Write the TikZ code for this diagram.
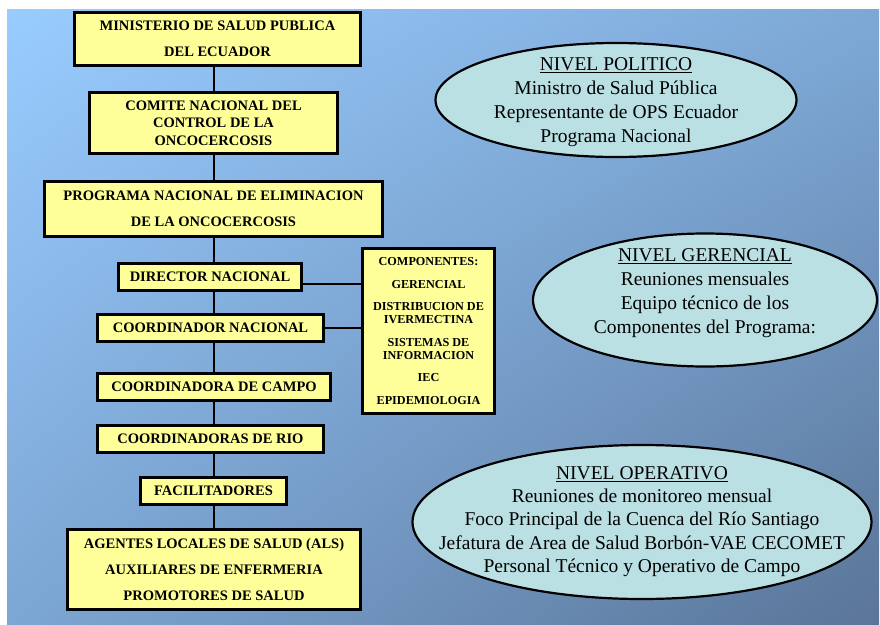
\documentclass[tikz,border=0pt]{standalone}
\usepackage{fontspec}
\usepackage{xcolor}
\usepackage{tikz}
\usetikzlibrary{shapes.geometric, shadings}
\setmainfont{Liberation Serif}
\definecolor{boxyellow}{RGB}{255, 255, 153}
\definecolor{nivelcyan}{RGB}{186, 224, 228}
\definecolor{bgtopleft}{RGB}{153, 204, 255}
\definecolor{bgtopright}{RGB}{125, 168, 214}
\definecolor{bgbottomleft}{RGB}{124, 166, 212}
\definecolor{bgbottomright}{RGB}{90, 117, 152}
\newcommand{\orgboxfont}{\fontsize{14.5}{17.5}\selectfont\bfseries}
\newcommand{\compfont}{\fontsize{12.2}{13}\selectfont\bfseries}
\newcommand{\nivelfont}{\fontsize{19.5}{24}\selectfont}

\begin{document}
\begin{tikzpicture}[
  x=1pt, y=-1pt,
  orgbox/.style={rectangle, draw=black, line width=2.7pt, fill=boxyellow,
    inner sep=1pt, align=center, font=\orgboxfont},
  compbox/.style={orgbox, font=\compfont},
  nivel/.style={ellipse, draw=black, line width=2.2pt, fill=nivelcyan, inner sep=0pt},
  niveltext/.style={align=center, font=\nivelfont},
  link/.style={line width=2.7pt}
]
  \useasboundingbox (0,0) rectangle (880,624);
  \shade[upper left=bgtopleft, upper right=bgtopright,
    lower left=bgbottomleft, lower right=bgbottomright] (7,9) rectangle (879,624);

  % chain of command
  \node[orgbox, minimum width=286.5pt, minimum height=53.5pt] (ministerio) at (217.5,39)
    {MINISTERIO DE SALUD PUBLICA\\[8.5pt]DEL ECUADOR};
  \node[orgbox, minimum width=248.5pt, minimum height=61.5pt] (comite) at (213.5,123)
    {COMITE NACIONAL DEL\\CONTROL DE LA\\ONCOCERCOSIS};
  \node[orgbox, minimum width=338.5pt, minimum height=55.5pt] (programa) at (213.5,209)
    {PROGRAMA NACIONAL DE ELIMINACION\\[9pt]DE LA ONCOCERCOSIS};
  \node[orgbox, minimum width=183.5pt, minimum height=27.5pt] (director) at (210,277)
    {DIRECTOR NACIONAL};
  \node[orgbox, minimum width=226.5pt, minimum height=27.5pt] (coordinador) at (210.5,328)
    {COORDINADOR NACIONAL};
  \node[orgbox, minimum width=233.5pt, minimum height=27.5pt] (campo) at (214,387)
    {COORDINADORA DE CAMPO};
  \node[orgbox, minimum width=226.5pt, minimum height=27.5pt] (rio) at (210.5,439)
    {COORDINADORAS DE RIO};
  \node[orgbox, minimum width=146.5pt, minimum height=27.5pt] (facilitadores) at (213.5,491)
    {FACILITADORES};
  \node[orgbox, minimum width=293.5pt, minimum height=80.5pt] (agentes) at (214,569.5)
    {AGENTES LOCALES DE SALUD (ALS)\\[8.5pt]AUXILIARES DE ENFERMERIA\\[8.5pt]PROMOTORES DE SALUD};

  \node[compbox, minimum width=132.5pt, minimum height=165.5pt] (componentes) at (428.5,331)
    {COMPONENTES:\\[9.5pt]GERENCIAL\\[9.5pt]DISTRIBUCION DE\\IVERMECTINA\\[9.5pt]SISTEMAS DE\\INFORMACION\\[9.5pt]IEC\\[9.5pt]EPIDEMIOLOGIA};

  % levels
  \node[nivel, minimum width=361pt, minimum height=114pt] (politico) at (616,100) {};
  \node[niveltext] (politicotxt) at (616,102.5)
    {\underline{NIVEL POLITICO}\\Ministro de Salud Pública\\Representante de OPS Ecuador\\Programa Nacional};
  \node[nivel, minimum width=344pt, minimum height=133pt] (gerencial) at (705,300) {};
  \node[niveltext] (gerencialtxt) at (705,293)
    {\underline{NIVEL GERENCIAL}\\Reuniones mensuales\\Equipo técnico de los\\Componentes del Programa:};
  \node[nivel, minimum width=459pt, minimum height=154pt] (operativo) at (642,522) {};
  \node[niveltext, font=\fontsize{19.5}{23.3}\selectfont] (operativotxt) at (642,521.5)
    {\underline{NIVEL OPERATIVO}\\Reuniones de monitoreo mensual\\Foco Principal de la Cuenca del Río Santiago\\Jefatura de Area de Salud Borbón-VAE CECOMET\\Personal Técnico y Operativo de Campo};

  % connectors
  \coordinate (spine) at (214,0);
  \foreach \upper/\lower in {ministerio/comite, comite/programa, programa/director,
      director/coordinador, coordinador/campo, campo/rio, rio/facilitadores,
      facilitadores/agentes}
    \draw[link] (\upper.south -| spine) -- (\lower.north -| spine);
  \draw[link] ([yshift=-7pt]director.east) -- ([yshift=-7pt]director.east -| componentes.west);
  \draw[link] (coordinador.east) -- (coordinador.east -| componentes.west);
\end{tikzpicture}
\end{document}
